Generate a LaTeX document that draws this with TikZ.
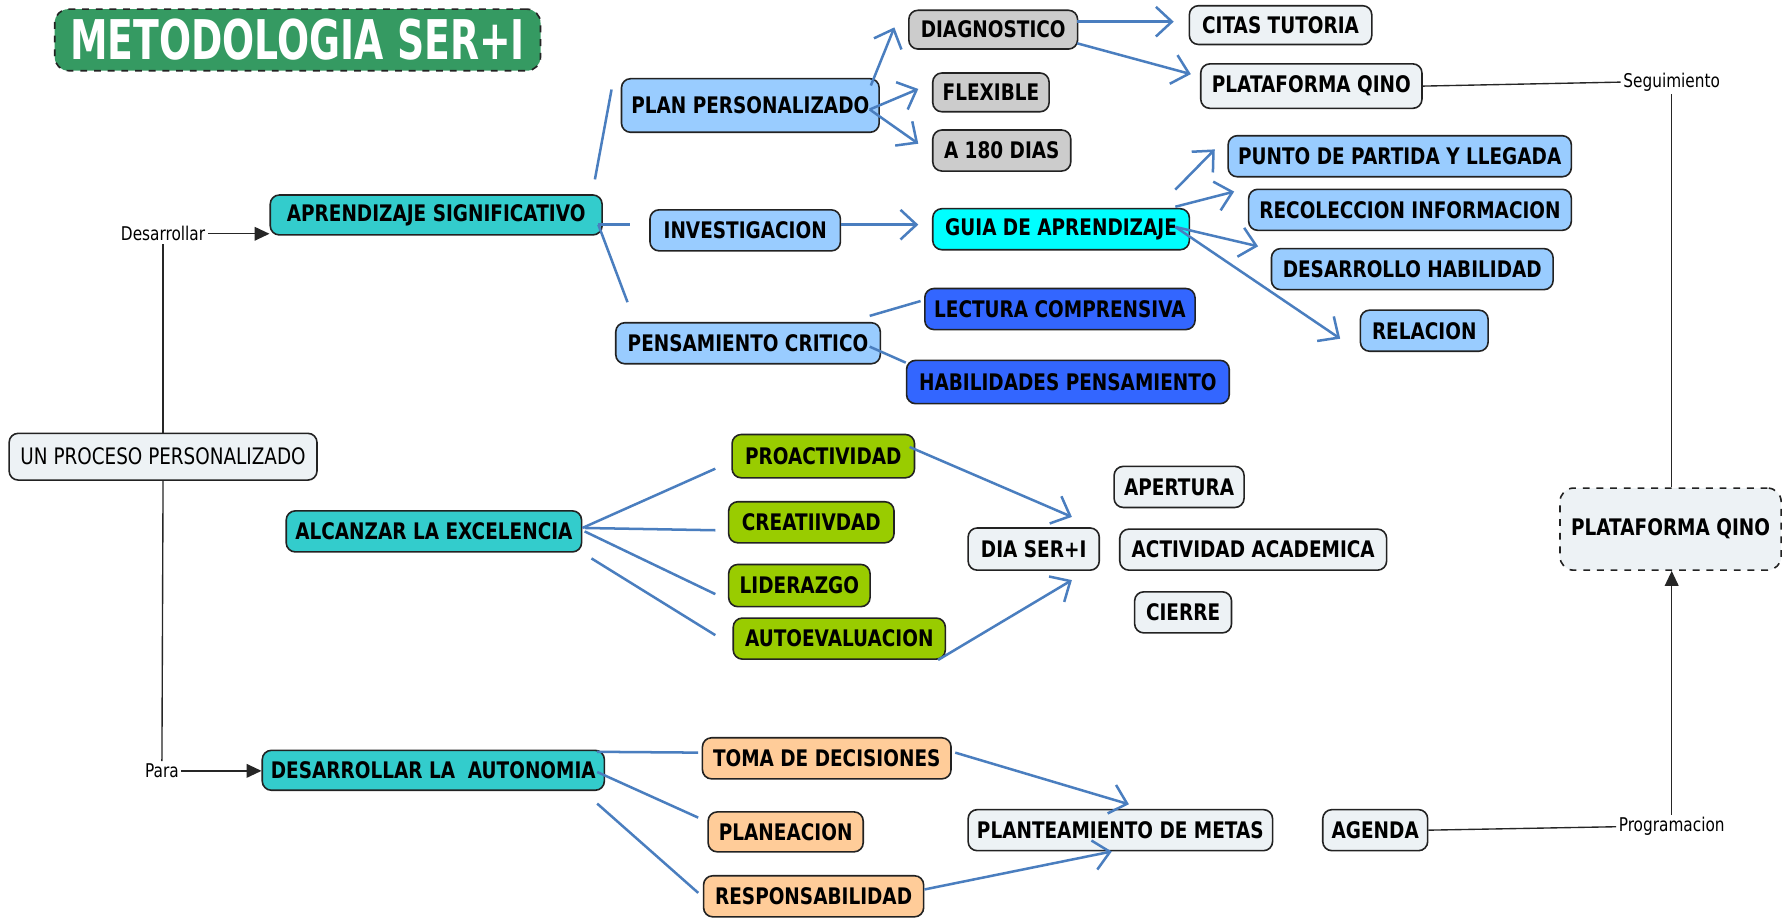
\documentclass[tikz,border=0pt]{standalone}
\usepackage{fontspec}
\setmainfont{DejaVu Sans}[FakeStretch=0.81]
\newfontfamily\titlefont{DejaVu Sans}[FakeStretch=0.69]
\usetikzlibrary{arrows.meta,calc}
\definecolor{teal1}{HTML}{33CCCC}
\definecolor{lblue}{HTML}{99CCFF}
\definecolor{gray1}{HTML}{CCCCCC}
\definecolor{cyan1}{HTML}{00FFFF}
\definecolor{dblue}{HTML}{3366FF}
\definecolor{lgreen}{HTML}{99CC00}
\definecolor{peach}{HTML}{FFCC99}
\definecolor{light}{HTML}{EDF2F5}
\definecolor{tgreen}{HTML}{359A62}
\definecolor{conn}{HTML}{4A7EBF}
\definecolor{edge}{HTML}{222222}
\tikzset{
  box/.style={draw=edge, line width=0.7pt, rounded corners=4pt, inner sep=0pt,
    font=\bfseries\fontsize{10}{12}\selectfont, align=center, text=black},
  sz/.style 2 args={minimum width=#1*0.5pt, minimum height=#2*0.5pt},
  lbl/.style={inner sep=1pt, font=\fontsize{8.3}{10}\selectfont},
  bl/.style={draw=conn, line width=1.1pt},
  ba/.style={bl, -{Straight Barb[length=7pt,width=13pt,line width=1.1pt]}},
  bk/.style={draw=black!85, line width=0.6pt},
  bka/.style={bk, -{Triangle[length=6.5pt,width=6pt]}},
}
\begin{document}
\begin{tikzpicture}[x=0.5pt,y=-0.5pt]
\fill[white] (0,0) rectangle (1568,805);
\useasboundingbox (0,0) rectangle (1568,805);

% title
\node[box, sz={426}{54}, fill=tgreen, dashed, rounded corners=6pt, text=white,
  font=\titlefont\bfseries\fontsize{24}{26}\selectfont] (title) at (261,35) {METODOLOGIA SER+I};

% left structure
\node[box, sz={270}{41}, fill=light, font=\fontsize{9.95}{12}\selectfont] (upc) at (143,400.5) {UN PROCESO PERSONALIZADO};
\node[lbl] (des) at (143,205) {Desarrollar};
\node[lbl] (para) at (142,676) {Para};

% level 1
\node[box, sz={291}{35}, fill=teal1] (apr) at (382.5,188.5) {APRENDIZAJE SIGNIFICATIVO};
\node[box, sz={259}{36}, fill=teal1] (alc) at (380.5,466) {ALCANZAR LA EXCELENCIA};
\node[box, sz={300}{35}, fill=teal1] (aut) at (380,675.5) {DESARROLLAR LA\ \ AUTONOMIA};

% level 2
\node[box, sz={226}{47}, fill=lblue] (plan) at (658,92.5) {PLAN PERSONALIZADO};
\node[box, sz={167}{36}, fill=lblue] (inv) at (653.5,202) {INVESTIGACION};
\node[box, sz={232}{36}, fill=lblue] (pen) at (656,301) {PENSAMIENTO CRITICO};

% level 3
\node[box, sz={148}{34}, fill=gray1] (diag) at (871,26) {DIAGNOSTICO};
\node[box, sz={102}{34}, fill=gray1] (flex) at (869,81) {FLEXIBLE};
\node[box, sz={121}{36}, fill=gray1] (a180) at (878.5,132) {A 180 DIAS};
\node[box, sz={160}{34}, fill=light] (citas) at (1123,22) {CITAS TUTORIA};
\node[box, sz={194}{39}, fill=light] (plat1) at (1150,75.5) {PLATAFORMA QINO};
\node[lbl] (seg) at (1466,72) {Seguimiento};
\node[box, sz={194}{72}, fill=light, dashed, rounded corners=6pt] (plat2) at (1465,464) {PLATAFORMA QINO};
\node[lbl] (prog) at (1466,725) {Programacion};
\node[box, sz={92}{36}, fill=light] (agenda) at (1206,728) {AGENDA};

\node[box, sz={225}{36}, fill=cyan1] (guia) at (930.5,201) {GUIA DE APRENDIZAJE};
\node[box, sz={301}{36}, fill=lblue] (punto) at (1227.5,137) {PUNTO DE PARTIDA Y LLEGADA};
\node[box, sz={283}{36}, fill=lblue] (recol) at (1236.5,184) {RECOLECCION INFORMACION};
\node[box, sz={247}{36}, fill=lblue] (desa) at (1238.5,236) {DESARROLLO HABILIDAD};
\node[box, sz={112}{36}, fill=lblue] (rel) at (1249,290) {RELACION};

\node[box, sz={237}{36}, fill=dblue] (lect) at (929.5,271) {LECTURA COMPRENSIVA};
\node[box, sz={283}{38}, fill=dblue] (hab) at (936.5,335) {HABILIDADES PENSAMIENTO};

\node[box, sz={160}{38}, fill=lgreen] (proa) at (722,400) {PROACTIVIDAD};
\node[box, sz={145}{36}, fill=lgreen] (crea) at (711.5,458) {CREATIIVDAD};
\node[box, sz={124}{37}, fill=lgreen] (lid) at (701,513.5) {LIDERAZGO};
\node[box, sz={186}{36}, fill=lgreen] (auto) at (736,560) {AUTOEVALUACION};

\node[box, sz={115}{37}, fill=light] (dia) at (906.5,481.5) {DIA SER+I};
\node[box, sz={114}{36}, fill=light] (aper) at (1034,427) {APERTURA};
\node[box, sz={234}{36}, fill=light] (acti) at (1099,482) {ACTIVIDAD ACADEMICA};
\node[box, sz={85}{36}, fill=light] (cier) at (1037.5,537) {CIERRE};

\node[box, sz={218}{36}, fill=peach] (toma) at (725,665) {TOMA DE DECISIONES};
\node[box, sz={136}{35}, fill=peach] (planea) at (689,729.5) {PLANEACION};
\node[box, sz={193}{36}, fill=peach] (resp) at (713.5,786) {RESPONSABILIDAD};
\node[box, sz={267}{36}, fill=light] (metas) at (982.5,728) {PLANTEAMIENTO DE METAS};

% black connectors
\draw[bk] (upc.north) -- (des.south);
\draw[bk] (upc.south) -- (para.north);
\draw[bka] (des.east) -- (des.east -| apr.west);
\draw[bka] (para.east) -- (para.east -| aut.west);
\draw[bk] (plat1.east) -- (seg.west);
\draw[bk] (seg.south) -- (seg.south |- plat2.north);
\draw[bka] (prog.north) -- (prog.north |- plat2.south);
\draw[bk] (agenda.east) -- (prog.west);

% blue connectors
\draw[bl] ($(apr.north east)+(-7,-13)$) -- ($(plan.west)+(-8,-14)$);
\draw[bl] ($(apr.east)+(-4,8.5)$) -- ($(inv.west)+(-17,-5)$);
\draw[bl] ($(apr.east)+(-4,8.5)$) -- ($(pen.west)+(11,-36)$);

\draw[ba] ($(plan.east)+(-8,-17.5)$) -- ($(diag.west)+(-12,-2)$);
\draw[ba] ($(plan.east)+(-9,3.5)$) -- ($(flex.west)+(-12,-3)$);
\draw[ba] ($(plan.east)+(-9,3.5)$) -- ($(a180.west)+(-12,-6)$);
\draw[ba] ($(diag.east)+(-1,-7)$) -- ($(citas.west)+(-13,-3)$);
\draw[ba] ($(diag.east)+(-1,12)$) -- ($(plat1.west)+(-8,-10.5)$);

\draw[ba] ($(inv.east)+(0,-5)$) -- ($(guia.west)+(-12,-4)$);
\draw[ba] ($(guia.north east)+(-13,-16)$) -- ($(punto.west)+(-11,-6)$);
\draw[ba] ($(guia.north east)+(-13,-1)$) -- ($(recol.west)+(-12,-16)$);
\draw[ba] ($(guia.east)+(-13,-2)$) -- ($(desa.west)+(-11,-20)$);
\draw[ba] ($(guia.east)+(-13,-2)$) -- ($(rel.west)+(-17,7)$);

\draw[bl] ($(pen.east)+(-10,-24)$) -- ($(lect.west)+(-3,-7)$);
\draw[bl] ($(pen.east)+(-10,3)$) -- ($(hab.west)+(0,-17)$);

\draw[bl] ($(alc.east)+(0,-3)$) -- ($(proa.west)+(-14,11)$);
\draw[bl] ($(alc.east)+(2,-3)$) -- ($(crea.west)+(-11,7)$);
\draw[bl] ($(alc.east)+(2,0)$) -- ($(lid.west)+(-11,7.5)$);
\draw[bl] ($(alc.south east)+(8,5)$) -- ($(auto.west)+(-15,-3)$);

\draw[ba] ($(proa.east)+(-5,-8)$) -- ($(dia.north)+(33.5,-9)$);
\draw[ba] ($(auto.south east)+(-7,0)$) -- ($(dia.south)+(33.5,8)$);

\draw[bl] ($(aut.north east)+(-7,2)$) -- ($(toma.west)+(-3,-5)$);
\draw[bl] ($(aut.east)+(-7,1.5)$) -- ($(planea.west)+(-8,-12.5)$);
\draw[bl] ($(aut.south east)+(-7,11)$) -- ($(resp.west)+(-4,-3)$);

\draw[ba] ($(toma.east)+(3,-5)$) -- ($(metas.north)+(7.5,-4)$);
\draw[ba] ($(resp.east)+(0,-6)$) -- ($(metas.south)+(-7.5,0)$);
\end{tikzpicture}
\end{document}
